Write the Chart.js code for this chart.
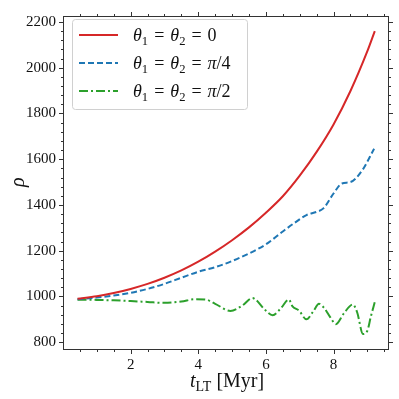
<!DOCTYPE html>
<html>
<head>
<meta charset="utf-8">
<script src="https://cdn.jsdelivr.net/npm/chart.js@4.4.1/dist/chart.umd.min.js"></script>
<style>
  html, body { margin: 0; padding: 0; background: #fff; }
  #wrap { width: 399px; height: 399px; }
</style>
</head>
<body>
<div id="wrap"><canvas id="rhoChart"></canvas></div>
<script>
// theta1 = theta2 = 0
const redT   = [0.43, 1.0, 1.5, 2.0, 2.5, 3.0, 3.5, 4.0, 4.5, 5.0, 5.5, 6.0, 6.5, 7.0, 7.5, 8.0, 8.5, 9.0, 9.22];
const redRho = [990, 1001, 1015, 1033, 1055, 1082, 1114, 1152, 1196, 1246, 1302, 1366, 1438, 1528, 1632, 1752, 1898, 2072, 2160];

// theta1 = theta2 = pi/4
const blueT   = [0.43, 1.0, 1.5, 2.0, 2.5, 3.0, 3.5, 4.0, 4.5, 5.0, 5.5, 6.0, 6.5, 6.85, 7.2, 7.5, 7.7, 8.0, 8.25, 8.5, 8.85, 9.2];
const blueRho = [988, 995, 1004, 1016, 1033, 1055, 1082, 1108, 1128, 1155, 1188, 1228, 1284, 1322, 1356, 1370, 1385, 1450, 1494, 1500, 1552, 1646];

// theta1 = theta2 = pi/2
const greenT   = [0.43, 1.0, 1.5, 2.0, 2.5, 3.0, 3.5, 3.9, 4.2, 4.5, 4.95, 5.3, 5.6, 5.7, 5.95, 6.2, 6.45, 6.68, 6.78, 6.98, 7.2, 7.4, 7.57, 7.72, 7.9, 8.07, 8.3, 8.57, 8.7, 8.87, 9.0, 9.1, 9.22];
const greenRho = [986, 985, 983, 980, 976, 972, 978, 988, 987, 968, 937, 960, 993, 986, 945, 918, 950, 987, 958, 938, 900, 935, 968, 950, 910, 879, 925, 965, 930, 836, 850, 910, 976];

const xMajor = [2, 4, 6, 8];
const yMajor = [800, 1000, 1200, 1400, 1600, 1800, 2000, 2200];

const seriesColors = ['#d62728', '#1f77b4', '#2ca02c'];
const seriesDash = [[], [6, 3], [9, 3, 2, 3]];
// legend pieces: [text, italic, subscript]
const EQ = '\u2004=\u2004';
const legendLabels = [
    [['θ', true, false], ['1', false, true], [EQ, false, false], ['θ', true, false], ['2', false, true], [EQ + '0', false, false]],
    [['θ', true, false], ['1', false, true], [EQ, false, false], ['θ', true, false], ['2', false, true], [EQ, false, false], ['π', true, false], ['/4', false, false]],
    [['θ', true, false], ['1', false, true], [EQ, false, false], ['θ', true, false], ['2', false, true], [EQ, false, false], ['π', true, false], ['/2', false, false]]
];

const SERIF = '"Liberation Serif", "DejaVu Serif", serif';

function toPoints(xs, ys) {
    return xs.map((x, i) => ({ x: x, y: ys[i] }));
}

function drawPieces(ctx, pieces, x, y, size) {
    ctx.textBaseline = 'alphabetic';
    ctx.textAlign = 'left';
    pieces.forEach(p => {
        const fs = p[2] ? size * 0.7 : size;
        ctx.font = (p[1] ? 'italic ' : '') + fs + 'px ' + SERIF;
        ctx.fillText(p[0], x, p[2] ? y + size * 0.22 : y);
        x += ctx.measureText(p[0]).width;
    });
}

const framePlugin = {
    id: 'frame',
    afterDraw(chart) {
        const ctx = chart.ctx;
        const a = chart.chartArea;
        const xs = chart.scales.x, ys = chart.scales.y;
        ctx.save();
        ctx.strokeStyle = '#333';
        ctx.lineWidth = 1;
        ctx.strokeRect(a.left + 0.5, a.top + 0.5, a.right - a.left - 1, a.bottom - a.top - 1);

        ctx.beginPath();
        for (let v = 0.5; v < xs.max; v += 0.5) {
            const px = Math.round(xs.getPixelForValue(v)) + 0.5;
            const len = (v % 2 === 0) ? 4 : 2;
            ctx.moveTo(px, a.bottom); ctx.lineTo(px, a.bottom + len);
            ctx.moveTo(px, a.top); ctx.lineTo(px, a.top - len);
        }
        for (let v = 800; v < ys.max; v += 40) {
            const py = Math.round(ys.getPixelForValue(v)) + 0.5;
            const len = (v % 200 === 0) ? 4 : 2;
            ctx.moveTo(a.left, py); ctx.lineTo(a.left - len, py);
            ctx.moveTo(a.right, py); ctx.lineTo(a.right + len, py);
        }
        ctx.stroke();

        // legend box
        const bx = 72.5, by = 19.5, bw = 175, bh = 90;
        ctx.fillStyle = 'rgba(255,255,255,0.85)';
        ctx.strokeStyle = '#d0d0d0';
        ctx.beginPath();
        ctx.roundRect(bx, by, bw, bh, 3);
        ctx.fill();
        ctx.stroke();
        legendLabels.forEach((pieces, i) => {
            const ry = 35 + i * 28;
            ctx.strokeStyle = seriesColors[i];
            ctx.lineWidth = 2;
            ctx.setLineDash(seriesDash[i]);
            ctx.beginPath();
            ctx.moveTo(79, ry); ctx.lineTo(118, ry);
            ctx.stroke();
            ctx.setLineDash([]);
            ctx.fillStyle = '#111';
            drawPieces(ctx, pieces, 133, ry + 6, 18);
        });

        // axis titles
        ctx.fillStyle = '#111';
        drawPieces(ctx, [['t', true, false], ['LT', false, true], [' [Myr]', false, false]], 190, 387, 20);
        ctx.save();
        ctx.translate(24, 182);
        ctx.rotate(-Math.PI / 2);
        drawPieces(ctx, [['ρ', true, false]], -5, 0, 20);
        ctx.restore();
        ctx.restore();
    }
};

document.addEventListener('DOMContentLoaded', function () {
    const ctx = document.getElementById('rhoChart').getContext('2d');
    const sets = [[redT, redRho], [blueT, blueRho], [greenT, greenRho]];
    new Chart(ctx, {
        type: 'scatter',
        data: {
            datasets: sets.map((s, i) => ({
                data: toPoints(s[0], s[1]),
                showLine: true,
                borderColor: seriesColors[i],
                borderWidth: 2,
                borderDash: seriesDash[i],
                pointRadius: 0,
                cubicInterpolationMode: 'monotone'
            }))
        },
        options: {
            responsive: true,
            maintainAspectRatio: false,
            animation: false,
            layout: { padding: { left: 0, top: 10, right: 10, bottom: 0 } },
            plugins: { legend: { display: false }, tooltip: { enabled: false } },
            scales: {
                x: {
                    type: 'linear',
                    min: 0,
                    max: 9.64,
                    afterFit: function (scale) { scale.height = 49; },
                    afterBuildTicks: function (scale) { scale.ticks = xMajor.map(v => ({ value: v })); },
                    grid: { display: false, drawTicks: false },
                    border: { display: false },
                    ticks: {
                        padding: 6,
                        color: '#111',
                        font: { family: SERIF, size: 15 },
                        callback: v => String(v)
                    }
                },
                y: {
                    type: 'linear',
                    min: 766,
                    max: 2226,
                    afterFit: function (scale) { scale.width = 63; },
                    afterBuildTicks: function (scale) { scale.ticks = yMajor.map(v => ({ value: v })); },
                    grid: { display: false, drawTicks: false },
                    border: { display: false },
                    ticks: {
                        padding: 7,
                        color: '#111',
                        font: { family: SERIF, size: 15 },
                        callback: v => String(v)
                    }
                }
            }
        },
        plugins: [framePlugin]
    });
});
</script>
</body>
</html>
